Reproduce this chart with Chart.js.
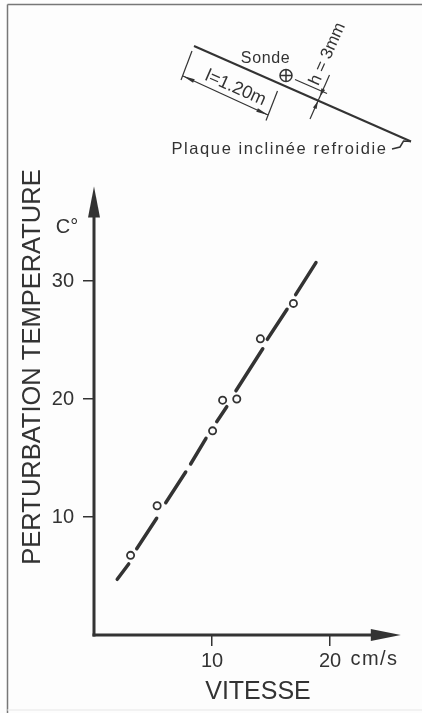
<!DOCTYPE html>
<html>
<head>
<meta charset="utf-8">
<style>
  html, body { margin: 0; padding: 0; background: #fdfdfd; }
  canvas { display: block; }
</style>
<script src="https://cdn.jsdelivr.net/npm/chart.js@4"></script>
</head>
<body>
<canvas id="graph" width="422" height="713"></canvas>
<script>
// measured points (cm/s, C°)
var vitesse = [3.1, 5.35, 10.05, 10.9, 12.1, 14.1, 16.9];
var perturbation = [6.75, 10.95, 17.3, 19.9, 20.0, 25.1, 28.1];

// broken fit line, null = gap between dashes
var fitX = [1.97, 2.94, 2.94, 3.62, 5.31, 5.31, 6.08, 7.77, 7.77, 8.19, 9.49, 9.49, 10.4, 11.25, 11.25, 12.03, 14.3, 14.3, 14.69, 16.36, 16.36, 17.09, 18.81];
var fitY = [4.72, 6.02, null, 7.31, 9.89, null, 11.21, 13.81, null, 14.49, 16.67, null, 18.08, 19.35, null, 20.7, 24.26, null, 25.06, 27.6, null, 28.84, 31.56];

var xTicks = [10, 20];
var yTicks = [10, 20, 30];

var INK = "#333333";
var FONT = '"Liberation Sans"';

function arrow(ctx, x1, y1, x2, y2, len, half) {
    // filled head with its tip on x2,y2
    var a = Math.atan2(y2 - y1, x2 - x1);
    ctx.beginPath();
    ctx.moveTo(x2, y2);
    ctx.lineTo(x2 - len * Math.cos(a) + half * Math.sin(a), y2 - len * Math.sin(a) - half * Math.cos(a));
    ctx.lineTo(x2 - len * Math.cos(a) - half * Math.sin(a), y2 - len * Math.sin(a) + half * Math.cos(a));
    ctx.closePath();
    ctx.fill();
}

function seg(ctx, x1, y1, x2, y2) {
    ctx.beginPath();
    ctx.moveTo(x1, y1);
    ctx.lineTo(x2, y2);
    ctx.stroke();
}

function label(ctx, text, x, y, size, rot, spacing) {
    ctx.save();
    ctx.translate(x, y);
    ctx.rotate(rot || 0);
    ctx.font = size + "px " + FONT;
    ctx.letterSpacing = (spacing || 0) + "px";
    ctx.textAlign = "center";
    ctx.textBaseline = "middle";
    ctx.fillText(text, 0, 0);
    ctx.restore();
}

// axes with arrow heads, page frame, extra units and the small sketch at the top
var decor = {
    id: "decor",
    beforeDraw: function (chart) {
        var ctx = chart.ctx;
        ctx.save();
        ctx.strokeStyle = "#777777";
        ctx.lineWidth = 1.5;
        seg(ctx, 7.5, 4.5, 422, 4.5);
        seg(ctx, 7.5, 4.5, 7.5, 713);
        ctx.strokeStyle = "#eeeeee";
        seg(ctx, 7.5, 710, 422, 710);
        ctx.restore();
    },
    afterDatasetsDraw: function (chart) {
        var ctx = chart.ctx;
        var x0 = chart.scales.x.getPixelForValue(0);
        var y0 = chart.scales.y.getPixelForValue(0);
        var xEnd = chart.scales.x.getPixelForValue(26);
        var yEnd = chart.scales.y.getPixelForValue(38);

        ctx.save();
        ctx.strokeStyle = INK;
        ctx.fillStyle = INK;
        ctx.lineWidth = 3;
        seg(ctx, x0, y0 + 1.5, x0, yEnd + 20);
        seg(ctx, x0 - 1.5, y0, xEnd - 20, y0);
        arrow(ctx, x0, y0, x0, yEnd, 31, 6);
        arrow(ctx, x0, y0, xEnd, y0, 30, 6);

        label(ctx, "C°", 67, 227, 20);
        label(ctx, "cm/s", 374.5, 659, 20, 0, 1.5);

        // sketch
        ctx.lineWidth = 2;
        seg(ctx, 194, 46, 411, 141.5);
        ctx.lineWidth = 1.2;
        seg(ctx, 192, 51, 181, 80);
        seg(ctx, 277.5, 91, 266, 120.5);
        seg(ctx, 183, 76, 268, 115);
        arrow(ctx, 268, 115, 183, 76, 12, 2);
        arrow(ctx, 183, 76, 268, 115, 12, 2);
        seg(ctx, 295, 79.5, 327, 93.5);
        seg(ctx, 329.5, 75, 310, 119);
        arrow(ctx, 329.5, 75, 320, 96.5, 8, 2);
        arrow(ctx, 310, 119, 318, 101, 8, 2);

        ctx.lineWidth = 1.5;
        ctx.beginPath();
        ctx.arc(286, 75.5, 6, 0, Math.PI * 2);
        ctx.moveTo(280, 75.5);
        ctx.lineTo(292, 75.5);
        ctx.moveTo(286, 69.5);
        ctx.lineTo(286, 81.5);
        ctx.stroke();

        ctx.beginPath();
        ctx.moveTo(392, 149);
        ctx.lineTo(400, 147);
        ctx.lineTo(403.5, 141);
        ctx.lineTo(411, 141.5);
        ctx.stroke();

        label(ctx, "Sonde", 265.5, 58.5, 16, 0, 0.6);
        label(ctx, "l=1.20m", 235.5, 88, 18, 0.415);
        label(ctx, "h = 3mm", 327.5, 54, 17, -1.15);
        label(ctx, "Plaque inclinée refroidie", 279.5, 149.5, 16.5, 0, 1.6);
        ctx.restore();
    }
};

new Chart(document.getElementById("graph"), {
    type: "scatter",
    plugins: [decor],
    data: {
        datasets: [{
            type: "line",
            data: fitX.map(function (v, i) { return {x: v, y: fitY[i]}; }),
            borderColor: INK,
            borderWidth: 3.5,
            borderCapStyle: "round",
            pointRadius: 0,
            spanGaps: false,
            tension: 0,
            order: 2
        }, {
            data: vitesse.map(function (v, i) { return {x: v, y: perturbation[i]}; }),
            pointRadius: 3.6,
            pointBorderWidth: 1.8,
            pointBackgroundColor: "#fdfdfd",
            pointBorderColor: INK,
            order: 1
        }]
    },
    options: {
        responsive: false,
        animation: false,
        events: [],
        layout: {autoPadding: false, padding: {top: 99}},
        plugins: {legend: {display: false}, tooltip: {enabled: false}},
        scales: {
            x: {
                type: "linear",
                min: 0,
                max: 328 / 11.8,
                afterFit: function (s) { s.height = 78; },
                afterBuildTicks: function (s) { s.ticks = xTicks.map(function (v) { return {value: v}; }); },
                border: {display: false},
                grid: {drawOnChartArea: false, drawTicks: true, tickLength: 11, color: INK, lineWidth: 1.5},
                ticks: {color: INK, autoSkip: false, maxRotation: 0, padding: 3, font: {family: FONT, size: 20}},
                title: {display: true, text: "VITESSE", color: INK, padding: {top: 0, bottom: 6}, font: {family: FONT, size: 25}}
            },
            y: {
                type: "linear",
                min: 0,
                max: 536 / 11.8,
                afterFit: function (s) { s.width = 94; },
                afterBuildTicks: function (s) { s.ticks = yTicks.map(function (v) { return {value: v}; }); },
                border: {display: false},
                grid: {drawOnChartArea: false, drawTicks: true, tickLength: 11, color: INK, lineWidth: 1.5},
                ticks: {color: INK, autoSkip: false, padding: 9, font: {family: FONT, size: 20}},
                title: {display: true, text: "PERTURBATION TEMPERATURE", color: INK, padding: {top: 18, bottom: 0}, font: {family: FONT, size: 25.5}}
            }
        }
    }
});
</script>
</body>
</html>
